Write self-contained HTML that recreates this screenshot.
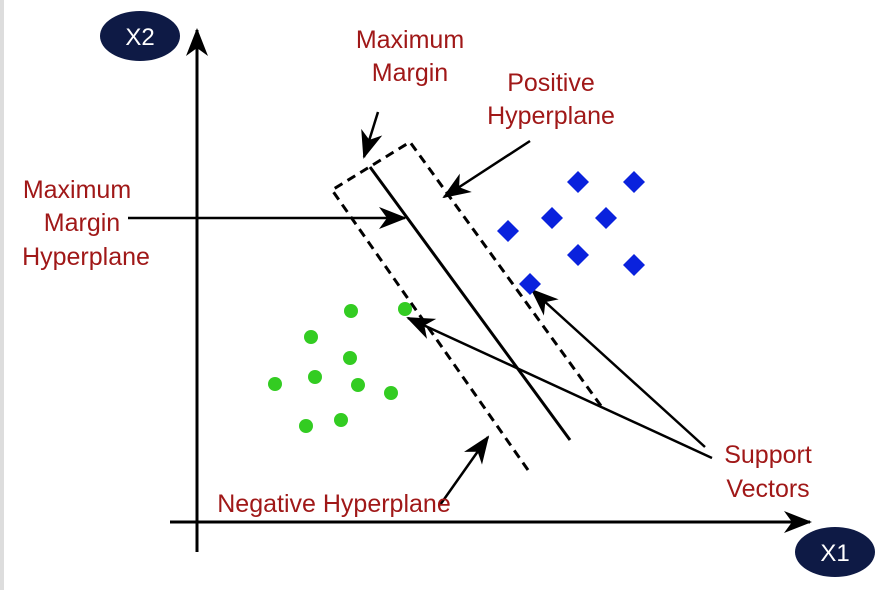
<!DOCTYPE html><html><head><style>body{margin:0;background:#fff}svg{display:block}text{font-family:"Liberation Sans",sans-serif}</style></head><body>
<svg width="890" height="590" viewBox="0 0 890 590">
<defs>
<marker id="b" markerWidth="28" markerHeight="26" refX="26" refY="13" orient="auto" markerUnits="userSpaceOnUse" viewBox="0 0 28 26"><path d="M0,2 L28,13 L0,24 L8,13z" fill="#000"/></marker></defs>
<rect x="0" y="0" width="4" height="590" fill="#ddd"/>
<line x1="197" y1="552" x2="197" y2="30" stroke="#000" stroke-width="3" marker-end="url(#b)"/>
<line x1="170" y1="522" x2="810" y2="522" stroke="#000" stroke-width="3" marker-end="url(#b)"/>
<ellipse cx="140" cy="36" rx="40" ry="25" fill="#0e1a45"/>
<text x="140" y="45" fill="#fff" font-size="24" text-anchor="middle">X2</text>
<ellipse cx="835" cy="552" rx="40" ry="25" fill="#0e1a45"/>
<text x="835" y="561" fill="#fff" font-size="24" text-anchor="middle">X1</text>
<g stroke="#000" stroke-width="3" stroke-dasharray="9,6" fill="none">
<polyline points="528,470 332,190 410,142 604,410"/></g>
<line x1="370" y1="167" x2="570" y2="440" stroke="#000" stroke-width="3"/>
<g stroke="#000" stroke-width="2.5" fill="none">
<line x1="378" y1="112" x2="364" y2="157" marker-end="url(#b)"/>
<line x1="530" y1="141" x2="444" y2="197" marker-end="url(#b)"/>
<line x1="128" y1="218" x2="405" y2="218" marker-end="url(#b)"/>
<line x1="712" y1="458" x2="408" y2="318" marker-end="url(#b)"/>
<line x1="705" y1="447" x2="532" y2="290" marker-end="url(#b)"/>
<line x1="440" y1="505" x2="488" y2="437" marker-end="url(#b)"/>
</g>
<g fill="#33cc22"><circle cx="311" cy="337" r="7"/><circle cx="351" cy="311" r="7"/><circle cx="350" cy="358" r="7"/><circle cx="315" cy="377" r="7"/><circle cx="358" cy="385" r="7"/><circle cx="275" cy="384" r="7"/><circle cx="391" cy="393" r="7"/><circle cx="306" cy="426" r="7"/><circle cx="341" cy="420" r="7"/><circle cx="405" cy="309" r="7"/></g>
<g fill="#0a22dd">
<path d="M578,171l11,11l-11,11l-11,-11z"/><path d="M634,171l11,11l-11,11l-11,-11z"/><path d="M552,207l11,11l-11,11l-11,-11z"/><path d="M606,207l11,11l-11,11l-11,-11z"/><path d="M508,220l11,11l-11,11l-11,-11z"/><path d="M578,244l11,11l-11,11l-11,-11z"/><path d="M634,254l11,11l-11,11l-11,-11z"/><path d="M530,273l11,11l-11,11l-11,-11z"/></g>
<g fill="#a01818" font-size="25" text-anchor="middle" textLength="0">
<text x="410" y="48">Maximum</text><text x="410" y="81">Margin</text>
<text x="551" y="91">Positive</text><text x="551" y="124">Hyperplane</text>
<text x="77" y="198">Maximum</text><text x="82" y="231">Margin</text><text x="86" y="265">Hyperplane</text>
<text x="768" y="463">Support</text><text x="768" y="497">Vectors</text>
<text x="334" y="512">Negative Hyperplane</text></g>
</svg></body></html>
